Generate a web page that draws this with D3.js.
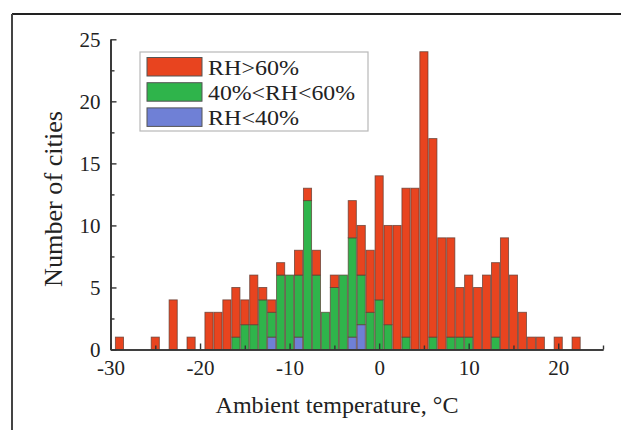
<!DOCTYPE html>
<html>
<head>
<meta charset="utf-8">
<script src="https://cdn.jsdelivr.net/npm/d3@7"></script>
<style>
  html, body { margin: 0; padding: 0; background: #fff; }
  svg { display: block; }
  text { font-family: "Liberation Serif", "Times New Roman", serif; fill: #222; }
</style>
</head>
<body>
<svg id="chart" width="621" height="430"></svg>
<script>
// ---- data ----
const temps = [-29,-25,-23,-21,-19,-18,-17,-16,-15,-14,-13,-12,-11,-10,-9,-8,-7,-6,-5,-4,-3,-2,-1,0,1,2,3,4,5,6,7,8,9,10,11,12,13,14,15,16,17,18,20,22];
const rhLow  = [0,0,0,0,0,0,0,0,0,0,0,1,0,0,1,0,0,0,0,0,1,2,0,0,0,0,0,0,0,0,0,0,0,0,0,0,0,0,0,0,0,0,0,0];
const rhMid  = [0,0,0,0,0,0,0,1,2,2,4,2,6,6,5,12,6,3,5,6,8,4,3,4,2,0,1,0,0,1,0,1,1,1,0,0,1,0,0,0,0,0,0,0];
const rhHigh = [1,1,4,1,3,3,4,4,2,4,1,1,1,0,2,1,2,0,1,0,3,4,5,10,8,10,12,13,24,16,9,8,4,5,5,6,6,9,6,3,1,1,1,1];
const seriesNames = ["RH>60%", "40%<RH<60%", "RH<40%"];
const xTicks = [-30,-20,-10,0,10,20];
const xMinor = [-25,-15,-5,5,15,25];
const yTicks = [0,5,10,15,20,25];
const yMinor = [2.5,7.5,12.5,17.5,22.5];
const xTitle = "Ambient temperature, °C";
const yTitle = "Number of cities";

const colors = { high: "#e8441f", mid: "#2fb44b", low: "#6f80d6" };

const svg = d3.select("#chart");

// outer frame (top and left edges)
svg.append("line").attr("x1", 12).attr("y1", 14).attr("x2", 621).attr("y2", 14)
  .attr("stroke", "#222").attr("stroke-width", 2);
svg.append("line").attr("x1", 12).attr("y1", 14).attr("x2", 12).attr("y2", 430)
  .attr("stroke", "#444").attr("stroke-width", 2);

const x = d3.scaleLinear().domain([-30, 25]).range([110.5, 603]);
const y = d3.scaleLinear().domain([0, 25]).range([349.5, 39.3]);

const rows = temps.map((t, i) => ({ t, low: rhLow[i], mid: rhMid[i], high: rhHigh[i] }));
const stack = d3.stack().keys(["low", "mid", "high"]);
const layers = stack(rows);

const g = svg.append("g");
layers.forEach(layer => {
  g.selectAll(null).data(layer.filter(d => d[1] > d[0])).enter().append("rect")
    .attr("x", d => x(d.data.t - 0.5) + 0.4)
    .attr("width", d => x(d.data.t + 0.5) - x(d.data.t - 0.5) - 0.8)
    .attr("y", d => y(d[1]))
    .attr("height", d => y(d[0]) - y(d[1]))
    .attr("fill", colors[layer.key])
    .attr("stroke", "#5a3a30")
    .attr("stroke-opacity", 0.75)
    .attr("stroke-width", 0.9);
});

// axes
const axColor = "#333";
const xAxis = svg.append("g").attr("transform", `translate(0,${y(0)})`)
  .call(d3.axisBottom(x).tickValues(xTicks).tickFormat(d3.format("d")).tickSize(-6).tickSizeOuter(0).tickPadding(10.5));
const xAxisMinor = svg.append("g").attr("transform", `translate(0,${y(0)})`)
  .call(d3.axisBottom(x).tickValues(xMinor).tickFormat("").tickSize(-4).tickSizeOuter(0));
const yAxis = svg.append("g").attr("transform", `translate(${x(-30)},0)`)
  .call(d3.axisLeft(y).tickValues(yTicks).tickSize(-6).tickSizeOuter(0).tickPadding(10));
const yAxisMinor = svg.append("g").attr("transform", `translate(${x(-30)},0)`)
  .call(d3.axisLeft(y).tickValues(yMinor).tickFormat("").tickSize(-4).tickSizeOuter(0));

[xAxis, xAxisMinor, yAxis, yAxisMinor].forEach(a => {
  a.select(".domain").attr("stroke", axColor).attr("stroke-width", 1.6);
  a.selectAll(".tick line").attr("stroke", axColor).attr("stroke-width", 1.4);
  a.selectAll("text").attr("font-family", "Liberation Serif, serif").attr("font-size", 21).attr("fill", "#333");
});
xAxis.selectAll("text").each(function(d) {
  // origin-style minus keeps digits centred; shift labels with hyphen
  d3.select(this).text(d < 0 ? "-" + Math.abs(d) : d);
});

// titles
svg.append("text")
  .attr("x", 337).attr("y", 413)
  .attr("text-anchor", "middle")
  .attr("font-size", 24)
  .attr("textLength", 243).attr("lengthAdjust", "spacingAndGlyphs")
  .text(xTitle);
svg.append("text")
  .attr("transform", "translate(62,199) rotate(-90)")
  .attr("text-anchor", "middle")
  .attr("font-size", 25)
  .attr("textLength", 176).attr("lengthAdjust", "spacingAndGlyphs")
  .text(yTitle);

// legend
const leg = svg.append("g");
leg.append("rect").attr("x", 140).attr("y", 52).attr("width", 228).attr("height", 79)
  .attr("fill", "#fff").attr("stroke", "#b8b8b8").attr("stroke-width", 1.2);
const legColors = [colors.high, colors.mid, colors.low];
const legWidths = [91, 147, 91];
seriesNames.forEach((name, i) => {
  const yy = 57.5 + i * 25.2;
  leg.append("rect").attr("x", 147).attr("y", yy).attr("width", 55).attr("height", 18.5)
    .attr("fill", legColors[i]).attr("stroke", "#555").attr("stroke-width", 1);
  leg.append("text").attr("x", 208).attr("y", yy + 17.5)
    .attr("font-size", 22)
    .attr("textLength", legWidths[i]).attr("lengthAdjust", "spacingAndGlyphs")
    .text(name);
});
</script>
</body>
</html>
